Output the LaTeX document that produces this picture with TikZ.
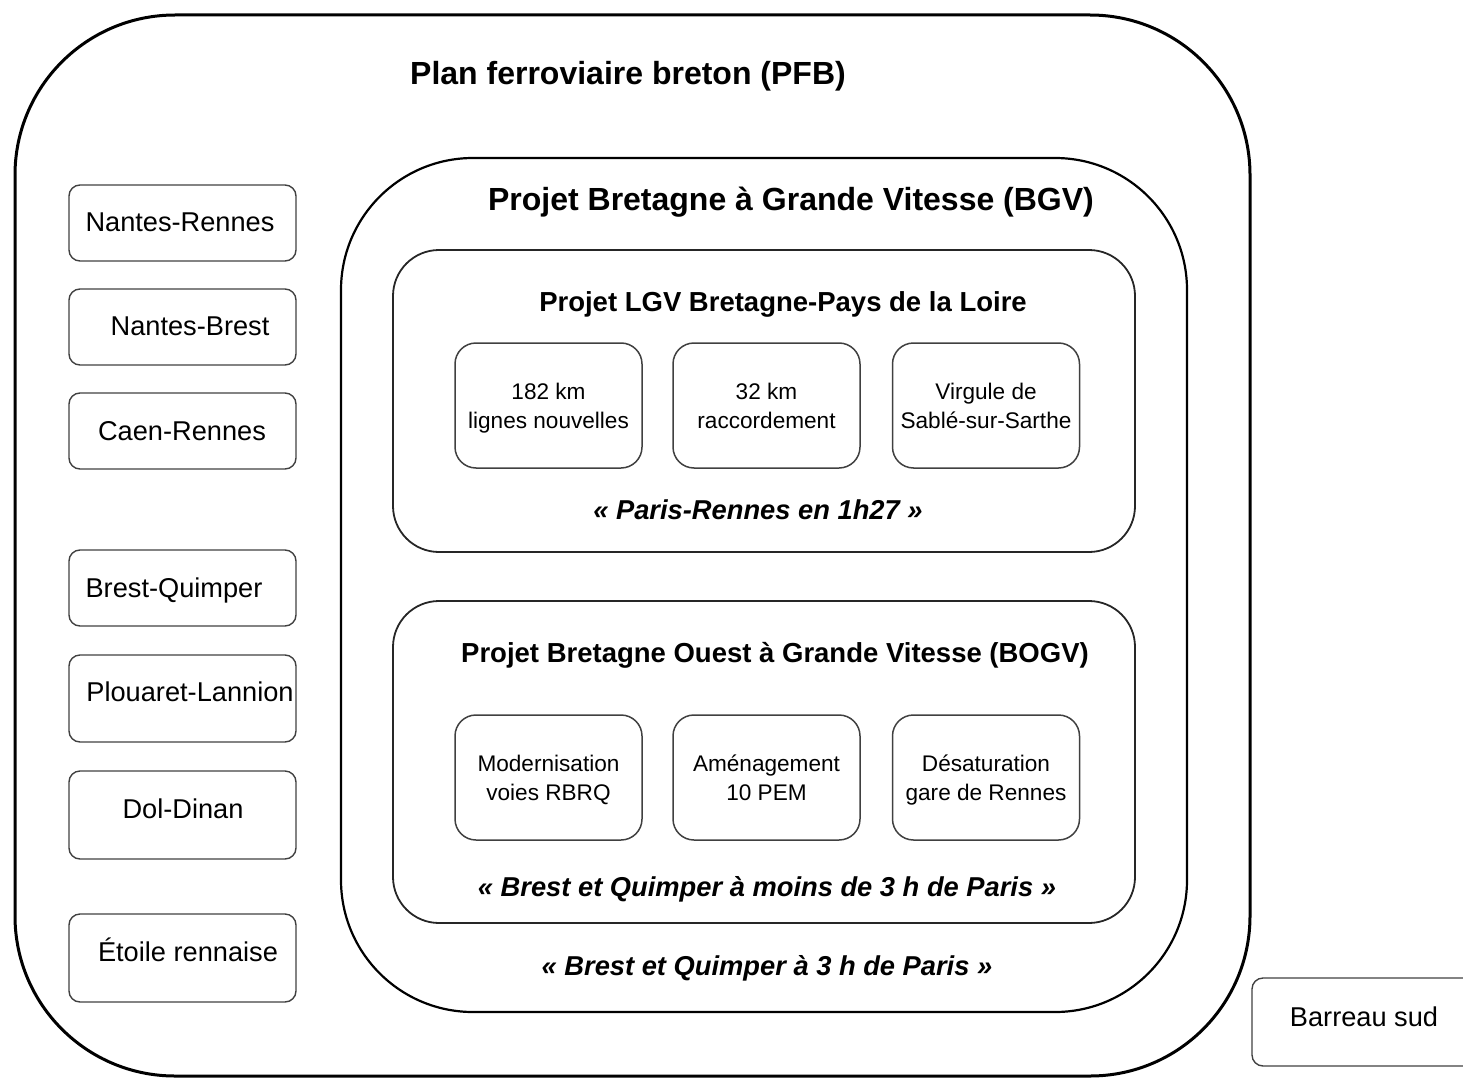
\documentclass[tikz,border=0pt]{standalone}
\usepackage{fontspec}
\setmainfont{Liberation Sans}
\newcommand\titlefont{\fontsize{32}{38}\selectfont\bfseries}
\newcommand\subtitlefont{\fontsize{27.5}{33}\selectfont\bfseries}
\newcommand\quotefont{\fontsize{27.3}{32}\selectfont\bfseries\itshape}
\newcommand\linefont{\fontsize{27.2}{32}\selectfont}
\newcommand\workfont{\fontsize{22.6}{29}\selectfont}
\begin{document}
\begin{tikzpicture}[x=1pt,y=-1pt,
  frame/.style={draw=black,line width=3pt,rounded corners=160pt},
  bgvframe/.style={draw=black,line width=2.2pt,rounded corners=132pt},
  subframe/.style={draw=black!85,line width=1.8pt,rounded corners=46pt},
  workbox/.style={draw=black!75,line width=1.5pt,rounded corners=21pt,
    minimum width=187pt,minimum height=125pt,inner sep=0pt,align=center,
    text depth=0pt,font=\workfont},
  linebox/.style={draw=black!75,line width=1.4pt,rounded corners=11pt},
  linelabel/.style={anchor=base,inner sep=0pt,font=\linefont},
  heading/.style={anchor=base,inner sep=0pt},
]
\useasboundingbox (0,0) rectangle (1463,1078);

% Plan ferroviaire breton
\draw[frame] (15,15) rectangle (1250,1076);
\node[heading,font=\titlefont] (pfb) at (628,85) {Plan ferroviaire breton (PFB)};

% Lignes du plan
\draw[linebox] (69,185) rectangle (296,261);
\node[linelabel] (nr) at (180,231) {Nantes-Rennes};
\draw[linebox] (69,289) rectangle (296,365);
\node[linelabel] (nb) at (190,335) {Nantes-Brest};
\draw[linebox] (69,393) rectangle (296,469);
\node[linelabel] (cr) at (182,440) {Caen-Rennes};
\draw[linebox] (69,550) rectangle (296,626);
\node[linelabel] (bq) at (174,597) {Brest-Quimper};
\draw[linebox] (69,655) rectangle (296,742);
\node[linelabel] (pl) at (190,701) {Plouaret-Lannion};
\draw[linebox] (69,771) rectangle (296,859);
\node[linelabel] (dd) at (183,818) {Dol-Dinan};
\draw[linebox] (69,914) rectangle (296,1002);
\node[linelabel] (er) at (188,961) {Étoile rennaise};

% Barreau sud
\draw[linebox] (1252,978) rectangle (1480,1066);
\node[linelabel] (bs) at (1364,1026) {Barreau sud};

% Bretagne à Grande Vitesse
\draw[bgvframe] (341,158) rectangle (1187,1012);
\node[heading,font=\titlefont] (bgv) at (791,211) {Projet Bretagne à Grande Vitesse (BGV)};
\node[heading,font=\quotefont] (bgvq) at (767,975) {« Brest et Quimper à 3 h de Paris »};

% LGV Bretagne-Pays de la Loire
\draw[subframe] (393,250) rectangle (1135,552);
\node[heading,font=\subtitlefont] (lgv) at (783,311) {Projet LGV Bretagne-Pays de la Loire};
\node[workbox] (w1) at (548.5,405.5) {182 km\\lignes nouvelles};
\node[workbox] (w2) at (766.5,405.5) {32 km\\raccordement};
\node[workbox] (w3) at (986,405.5) {Virgule de\\Sablé-sur-Sarthe};
\node[heading,font=\quotefont] (lgvq) at (758,519) {« Paris-Rennes en 1h27 »};

% Bretagne Ouest à Grande Vitesse
\draw[subframe] (393,601) rectangle (1135,923);
\node[heading,font=\subtitlefont] (bogv) at (775,662) {Projet Bretagne Ouest à Grande Vitesse (BOGV)};
\node[workbox] (w4) at (548.5,777.5) {Modernisation\\voies RBRQ};
\node[workbox] (w5) at (766.5,777.5) {Aménagement\\10 PEM};
\node[workbox] (w6) at (986,777.5) {Désaturation\\gare de Rennes};
\node[heading,font=\quotefont] (bogvq) at (767,896) {« Brest et Quimper à moins de 3 h de Paris »};
\end{tikzpicture}
\end{document}
